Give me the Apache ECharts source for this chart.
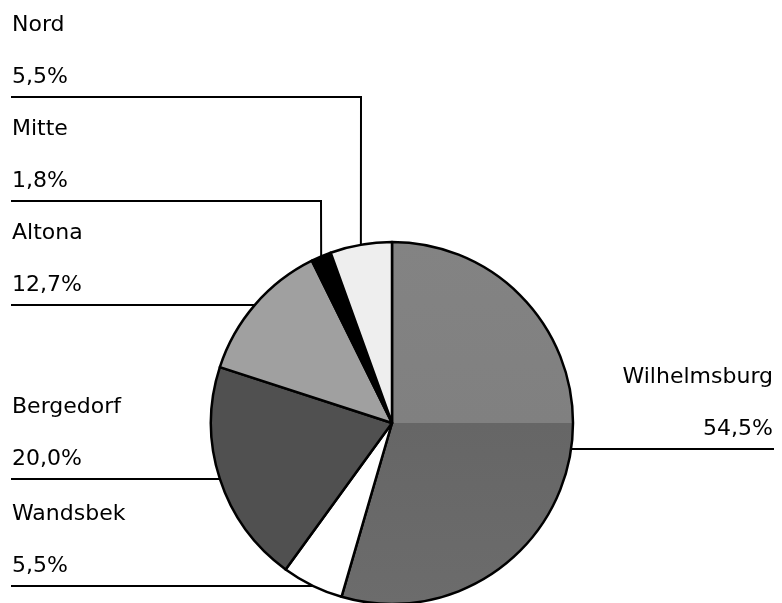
<!DOCTYPE html>
<html><head><meta charset="utf-8">
<script src="https://cdn.jsdelivr.net/npm/echarts@6/dist/echarts.min.js"></script>
<style>html,body{margin:0;padding:0;background:#fff}#c{width:782px;height:603px}</style>
</head><body><div id="c"></div>
<script>
const districts = ['Wilhelmsburg', 'Wandsbek', 'Bergedorf', 'Altona', 'Mitte', 'Nord'];
const shares = [54.5, 5.5, 20.0, 12.7, 1.8, 5.5];
const shareLabels = ['54,5%', '5,5%', '20,0%', '12,7%', '1,8%', '5,5%'];

const wilhelmsburgFill = {
  type: 'linear', x: 0, y: 0, x2: 0, y2: 1,
  colorStops: [
    { offset: 0, color: '#838383' }, { offset: 0.5, color: '#808080' },
    { offset: 0.5, color: '#666666' }, { offset: 1, color: '#6c6c6c' }
  ]
};
const sliceColors = [wilhelmsburgFill, '#ffffff', '#505050', '#a0a0a0', '#000000', '#eeeeee'];

const CX = 392, CY = 423, R = 181, GAP = 104;
const total = shares.reduce((a, b) => a + b, 0);
let acc = 0;
const mids = shares.map(v => { const m = (acc + v / 2) / total * 2 * Math.PI; acc += v; return m; });
const edge = mids.map(a => [CX + R * Math.sin(a), CY - R * Math.cos(a)]);
const side = edge.map(p => p[0] >= CX ? 'right' : 'left');
const lineY = edge.map(p => p[1]);
// stack labels on each side upward so they don't overlap
['left', 'right'].forEach(s => {
  const idx = districts.map((_, i) => i).filter(i => side[i] === s).sort((a, b) => edge[b][1] - edge[a][1]);
  let prev = Infinity;
  idx.forEach(i => { lineY[i] = Math.round(Math.min(edge[i][1], prev - GAP)); prev = lineY[i]; });
});

const chart = echarts.init(document.getElementById('c'), null, { renderer: 'canvas' });
chart.setOption({
  animation: false,
  backgroundColor: '#ffffff',
  series: [{
    type: 'pie',
    center: [CX, CY],
    radius: R,
    startAngle: 90,
    clockwise: true,
    avoidLabelOverlap: false,
    data: districts.map((n, i) => ({ name: n, value: shares[i], itemStyle: { color: sliceColors[i] } })),
    itemStyle: { borderColor: '#000', borderWidth: 2.5 },
    emphasis: { disabled: true },
    label: {
      show: true,
      formatter: p => p.name + '\n' + shareLabels[p.dataIndex],
      fontFamily: 'DejaVu Sans',
      fontSize: 22,
      color: '#000',
      lineHeight: 52
    },
    labelLine: { show: true, lineStyle: { color: '#000', width: 2 } },
    labelLayout: function (params) {
      const i = params.dataIndex;
      const e = (params.labelLinePoints && params.labelLinePoints[0]) || edge[i];
      const y = lineY[i];
      const left = side[i] === 'left';
      const endX = left ? 11 : 774;
      const vx = Math.round(e[0]);
      return {
        x: left ? 12 : 773,
        y: y - 46,
        align: left ? 'left' : 'right',
        verticalAlign: 'middle',
        labelLinePoints: [[e[0], e[1]], [vx, y], [endX, y]]
      };
    }
  }]
});
</script></body></html>
